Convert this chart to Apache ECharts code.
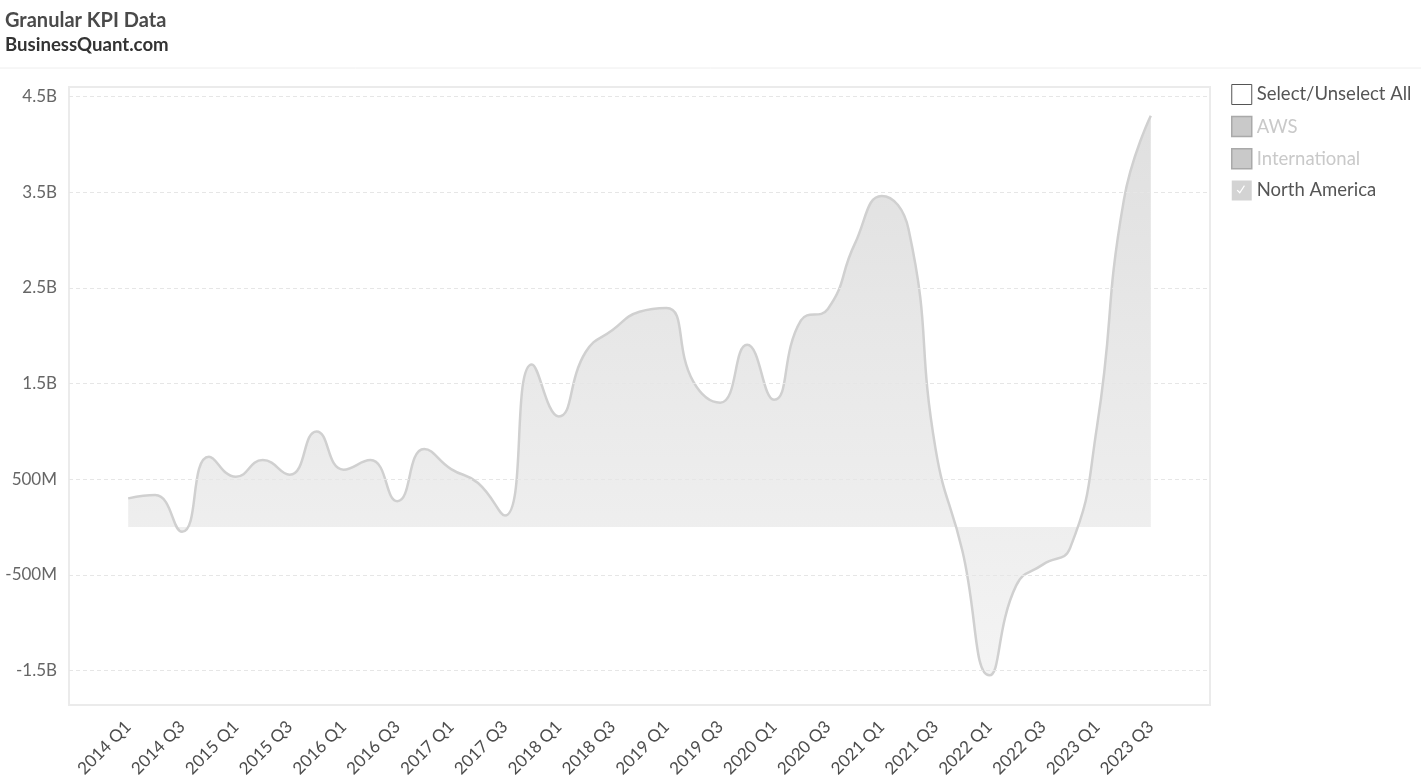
<!DOCTYPE html>
<html><head><meta charset="utf-8">
<script src="https://cdn.jsdelivr.net/npm/echarts@6/dist/echarts.min.js"></script>
<style>html,body{margin:0;padding:0;background:#fff}#c{width:1421px;height:784px}</style>
</head><body><div id="c"></div>
<script>
// Quarters (category labels)
const quarters = [
  '2014 Q1','2014 Q2','2014 Q3','2014 Q4',
  '2015 Q1','2015 Q2','2015 Q3','2015 Q4',
  '2016 Q1','2016 Q2','2016 Q3','2016 Q4',
  '2017 Q1','2017 Q2','2017 Q3','2017 Q4',
  '2018 Q1','2018 Q2','2018 Q3','2018 Q4',
  '2019 Q1','2019 Q2','2019 Q3','2019 Q4',
  '2020 Q1','2020 Q2','2020 Q3','2020 Q4',
  '2021 Q1','2021 Q2','2021 Q3','2021 Q4',
  '2022 Q1','2022 Q2','2022 Q3','2022 Q4',
  '2023 Q1','2023 Q2','2023 Q3'
];
// North America values (USD millions)
const northAmerica = [
  300, 334, -50, 735,
  526, 700, 547, 1000,
  600, 700, 270, 815,
  606, 460, 120, 1700,
  1157, 1830, 2060, 2250,
  2290, 1520, 1300, 1905,
  1330, 2160, 2280, 2960,
  3460, 3110, 820, -250,
  -1550, -610, -390, -220,
  1050, 3420, 4300
];
const awsValues = [];
const internationalValues = [];
// Y tick values (USD millions) and their labels
const yTickValues = [-1500, -500, 500, 1500, 2500, 3500, 4500];
const yTickLabels = ['-1.5B', '-500M', '500M', '1.5B', '2.5B', '3.5B', '4.5B'];
const legendNames = ['Select/Unselect All', 'AWS', 'International', 'North America'];

const checkIcon = 'path://M0 0L20 0L20 20L0 20Z M5 10.2L8.1 13.3L13.2 5.6L12.2 4.9L8 11.3L5.9 9.3Z';

const chart = echarts.init(document.getElementById('c'), null, {renderer: 'canvas'});
chart.setOption({
  animation: false,
  backgroundColor: '#fff',
  textStyle: {fontFamily: 'Lato'},
  title: [
    {text: 'Granular KPI Data', left: 5, top: 11, padding: 0,
     textStyle: {fontFamily: 'Lato', fontWeight: 'bold', fontSize: 20, color: '#4a4a4a'}},
    {text: 'BusinessQuant.com', left: 5, top: 35, padding: 0,
     textStyle: {fontFamily: 'Lato', fontWeight: 'bold', fontSize: 18.6, color: '#333'}}
  ],
  graphic: [
    {type: 'line', shape: {x1: 0, y1: 68, x2: 1421, y2: 68}, style: {stroke: '#eeeeee', lineWidth: 1}, silent: true}
  ],
  legend: {
    orient: 'vertical', left: 1231, top: 84, padding: 0,
    itemWidth: 20, itemHeight: 20, itemGap: 10.8,
    textStyle: {fontFamily: 'Lato', fontSize: 18.5, color: '#555'},
    inactiveColor: '#c9c9c9', inactiveBorderColor: '#a9a9a9', inactiveBorderWidth: 1.5,
    selected: {'AWS': false, 'International': false},
    data: [
      {name: legendNames[0], icon: 'rect', itemStyle: {color: '#fff', borderColor: '#555', borderWidth: 1}},
      {name: legendNames[1], icon: 'rect', itemStyle: {color: '#c9c9c9', borderColor: '#a9a9a9', borderWidth: 1.5}},
      {name: legendNames[2], icon: 'rect', itemStyle: {color: '#c9c9c9', borderColor: '#a9a9a9', borderWidth: 1.5}},
      {name: legendNames[3], icon: checkIcon, itemStyle: {color: '#d3d3d3', borderWidth: 0}}
    ]
  },
  grid: {
    left: 69, right: 211, top: 87, bottom: 79,
    show: true, borderColor: '#ebebeb', borderWidth: 2, backgroundColor: 'transparent'
  },
  xAxis: {
    type: 'value', min: -2.2, max: 40.2, interval: 0.2,
    axisLine: {show: false}, axisTick: {show: false}, splitLine: {show: false},
    axisLabel: {
      rotate: 45, margin: 19, fontSize: 17, color: '#4d4d4d', fontFamily: 'Lato',
      formatter: function (v) {
        const r = Math.round(v);
        if (Math.abs(v - r) < 1e-6 && r >= 0 && r < quarters.length && r % 2 === 0) return quarters[r];
        return '';
      }
    }
  },
  yAxis: {
    type: 'value', min: -1860, max: 4600, interval: 20,
    axisLine: {show: false}, axisTick: {show: false}, splitLine: {show: false},
    axisLabel: {
      margin: 12, fontSize: 17, color: '#666', fontFamily: 'Lato',
      formatter: function (v) {
        for (let i = 0; i < yTickValues.length; i++) {
          if (Math.abs(v - yTickValues[i]) < 1e-6) return yTickLabels[i];
        }
        return '';
      }
    }
  },
  series: [
    {name: legendNames[0], type: 'line', data: [], itemStyle: {color: '#fff'}},
    {name: legendNames[1], type: 'line', data: awsValues.map((v, i) => [i, v]), itemStyle: {color: '#c9c9c9'}},
    {name: legendNames[2], type: 'line', data: internationalValues.map((v, i) => [i, v]), itemStyle: {color: '#c9c9c9'}},
    {
      name: legendNames[3], type: 'line', smooth: 0.5, showSymbol: false, symbol: 'none',
      data: northAmerica.map((v, i) => [i, v]),
      itemStyle: {color: '#d0d0d0'},
      lineStyle: {color: '#d0d0d0', width: 2.5},
      areaStyle: {
        color: new echarts.graphic.LinearGradient(0, 0, 0, 1, [
          {offset: 0, color: '#d2d2d2'},
          {offset: 1, color: '#efefef'}
        ])
      },
      markLine: {
        silent: true, symbol: 'none', label: {show: false},
        lineStyle: {color: '#e6e6e6', type: [4, 3], width: 1},
        data: yTickValues.map(v => ({yAxis: v}))
      }
    }
  ]
});
</script>
</body></html>
